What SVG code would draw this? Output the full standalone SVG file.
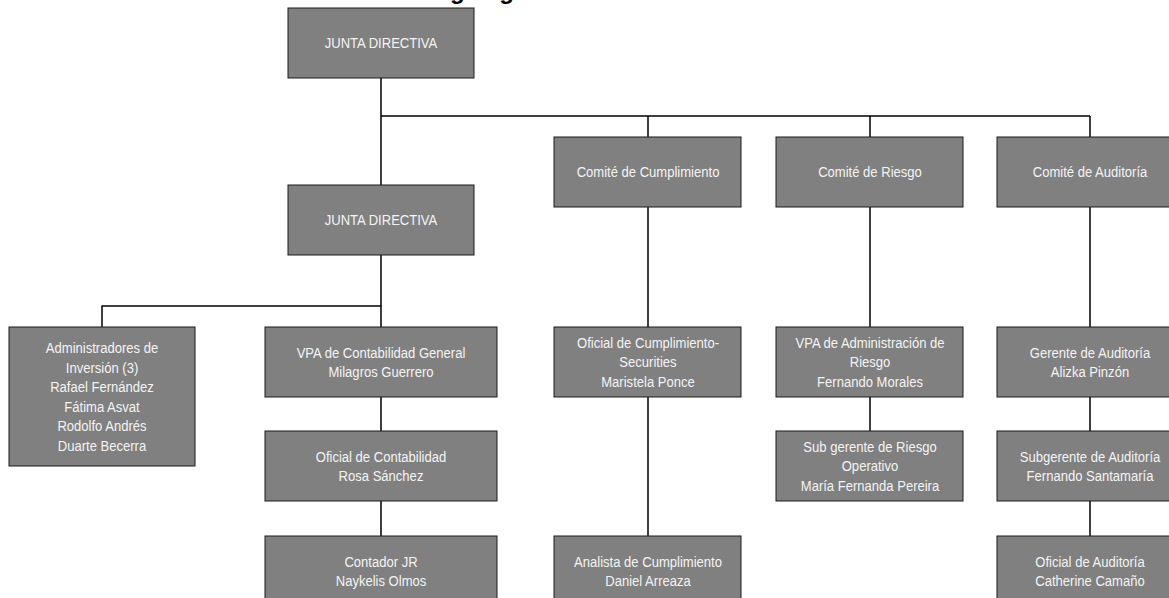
<svg xmlns="http://www.w3.org/2000/svg" width="1169" height="598" viewBox="0 0 1169 598">
<style>
.box{fill:#808080;stroke:#1a1a1a;stroke-width:1}
.t{font-family:"Liberation Sans",Arial,sans-serif;font-size:15px;fill:#f4f4f4;text-anchor:middle}
.c{fill:none;stroke:#000;stroke-width:1.5}
.title{font-family:"Liberation Sans",Arial,sans-serif;font-size:24px;font-weight:bold;fill:#000}
</style>
<rect width="1169" height="598" fill="#fff"/>
<text class="title" x="422" y="-1.5">Organigrama Prival Securities</text>
<g id="connectors">
<path class="c" d="M381 78V185M381 116H1090M648 116V137M870 116V137M1090 116V137M381 255V327M102 327V306H381M381 397V431M381 501V536M648 207V327M648 397V536M870 207V327M870 397V431M1090 207V327M1090 397V431M1090 501V536"/>
</g>
<g id="junta1"><rect class="box" x="288" y="8" width="186" height="70"/><text class="t" transform="matrix(0.87 0 0 1 381 0)" x="0" y="48.4">JUNTA DIRECTIVA</text></g>
<g id="junta2"><rect class="box" x="288" y="185" width="186" height="70"/><text class="t" transform="matrix(0.87 0 0 1 381 0)" x="0" y="225.4">JUNTA DIRECTIVA</text></g>
<g id="comite-cumplimiento"><rect class="box" x="554" y="137" width="187" height="70"/><text class="t" transform="matrix(0.87 0 0 1 648 0)" x="0" y="177.4">Comité de Cumplimiento</text></g>
<g id="comite-riesgo"><rect class="box" x="776" y="137" width="187" height="70"/><text class="t" transform="matrix(0.87 0 0 1 870 0)" x="0" y="177.4">Comité de Riesgo</text></g>
<g id="comite-auditoria"><rect class="box" x="997" y="137" width="187" height="70"/><text class="t" transform="matrix(0.87 0 0 1 1090 0)" x="0" y="177.4">Comité de Auditoría</text></g>
<g id="administradores"><rect class="box" x="9" y="327" width="186" height="139"/><text class="t" transform="matrix(0.87 0 0 1 102 0)" y="353.2"><tspan x="0">Administradores de</tspan><tspan x="0" dy="19.5">Inversión (3)</tspan><tspan x="0" dy="19.5">Rafael Fernández</tspan><tspan x="0" dy="19.5">Fátima Asvat</tspan><tspan x="0" dy="19.5">Rodolfo Andrés</tspan><tspan x="0" dy="19.5">Duarte Becerra</tspan></text></g>
<g id="vpa-contabilidad"><rect class="box" x="265" y="327" width="232" height="70"/><text class="t" transform="matrix(0.87 0 0 1 381 0)" y="357.6"><tspan x="0">VPA de Contabilidad General</tspan><tspan x="0" dy="19.5">Milagros Guerrero</tspan></text></g>
<g id="oficial-contabilidad"><rect class="box" x="265" y="431" width="232" height="70"/><text class="t" transform="matrix(0.87 0 0 1 381 0)" y="461.6"><tspan x="0">Oficial de Contabilidad</tspan><tspan x="0" dy="19.5">Rosa Sánchez</tspan></text></g>
<g id="contador"><rect class="box" x="265" y="536" width="232" height="70"/><text class="t" transform="matrix(0.87 0 0 1 381 0)" y="566.6"><tspan x="0">Contador JR</tspan><tspan x="0" dy="19.5">Naykelis Olmos</tspan></text></g>
<g id="oficial-cumplimiento"><rect class="box" x="554" y="327" width="187" height="70"/><text class="t" transform="matrix(0.87 0 0 1 648 0)" y="347.9"><tspan x="0">Oficial de Cumplimiento-</tspan><tspan x="0" dy="19.5">Securities</tspan><tspan x="0" dy="19.5">Maristela Ponce</tspan></text></g>
<g id="analista-cumplimiento"><rect class="box" x="554" y="536" width="187" height="70"/><text class="t" transform="matrix(0.87 0 0 1 648 0)" y="566.6"><tspan x="0">Analista de Cumplimiento</tspan><tspan x="0" dy="19.5">Daniel Arreaza</tspan></text></g>
<g id="vpa-riesgo"><rect class="box" x="776" y="327" width="187" height="70"/><text class="t" transform="matrix(0.87 0 0 1 870 0)" y="347.9"><tspan x="0">VPA de Administración de</tspan><tspan x="0" dy="19.5">Riesgo</tspan><tspan x="0" dy="19.5">Fernando Morales</tspan></text></g>
<g id="subgerente-riesgo"><rect class="box" x="776" y="431" width="187" height="70"/><text class="t" transform="matrix(0.87 0 0 1 870 0)" y="451.9"><tspan x="0">Sub gerente de Riesgo</tspan><tspan x="0" dy="19.5">Operativo</tspan><tspan x="0" dy="19.5">María Fernanda Pereira</tspan></text></g>
<g id="gerente-auditoria"><rect class="box" x="997" y="327" width="187" height="70"/><text class="t" transform="matrix(0.87 0 0 1 1090 0)" y="357.6"><tspan x="0">Gerente de Auditoría</tspan><tspan x="0" dy="19.5">Alizka Pinzón</tspan></text></g>
<g id="subgerente-auditoria"><rect class="box" x="997" y="431" width="187" height="70"/><text class="t" transform="matrix(0.87 0 0 1 1090 0)" y="461.6"><tspan x="0">Subgerente de Auditoría</tspan><tspan x="0" dy="19.5">Fernando Santamaría</tspan></text></g>
<g id="oficial-auditoria"><rect class="box" x="997" y="536" width="187" height="70"/><text class="t" transform="matrix(0.87 0 0 1 1090 0)" y="566.6"><tspan x="0">Oficial de Auditoría</tspan><tspan x="0" dy="19.5">Catherine Camaño</tspan></text></g>
</svg>
